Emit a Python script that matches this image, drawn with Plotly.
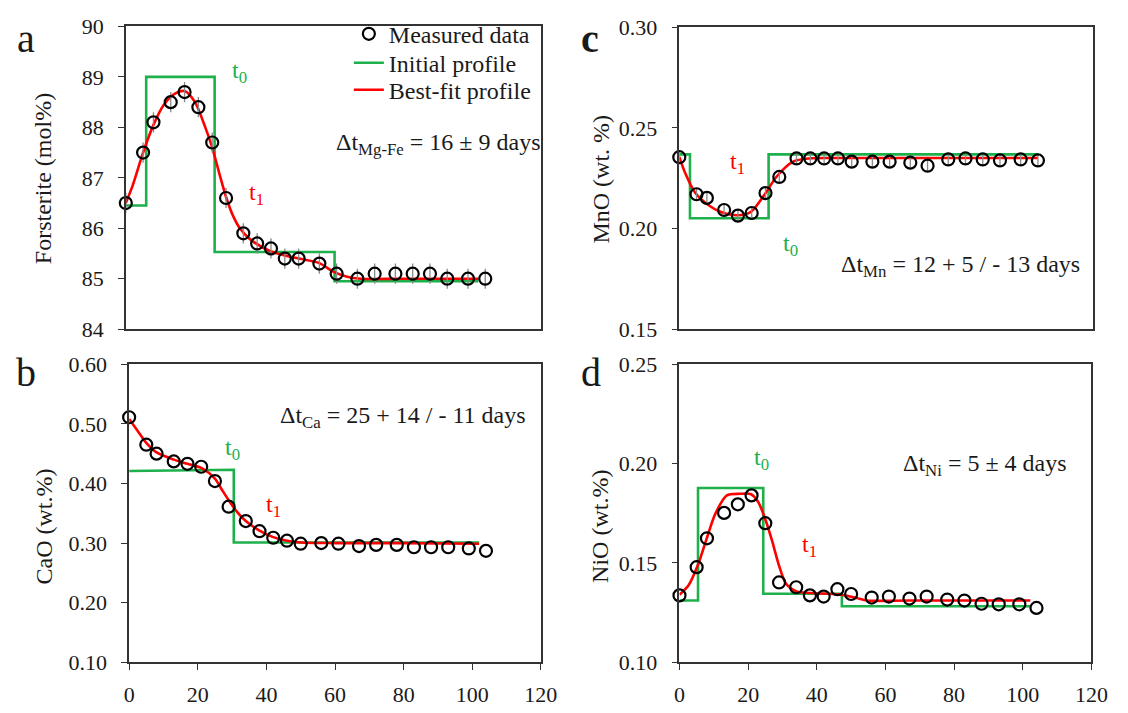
import plotly.graph_objects as go

W, H = 1128, 713
FONT = "Liberation Serif, 'Times New Roman', Times, serif"
GREEN = "#1DB04B"
RED = "#FF0000"

# ---------------- data ----------------
dist = [0, 5, 8, 13, 17, 21, 25, 29, 34, 38, 42, 46, 50, 56, 61, 67, 72, 78, 83, 88, 93, 99, 104]

fo_meas = [86.5, 87.5, 88.1, 88.5, 88.7, 88.4, 87.7, 86.6, 85.9, 85.7, 85.6, 85.4, 85.4, 85.3,
           85.1, 85.0, 85.1, 85.1, 85.1, 85.1, 85.0, 85.0, 85.0]
fo_init_x = [0, 5.9, 25.7, 60.4, 102]
fo_init_y = [86.45, 89.0, 85.53, 84.95, 84.95]
fo_fit_x = [0, 2, 5, 8, 11, 14, 17, 20, 23, 25, 27, 29, 31, 33, 36, 42, 50, 56, 60, 64, 68, 80, 102]
fo_fit_y = [86.5, 86.85, 87.5, 88.05, 88.45, 88.66, 88.72, 88.5, 88.0, 87.6, 87.1, 86.62, 86.25,
            86.0, 85.78, 85.54, 85.4, 85.31, 85.14, 85.04, 85.0, 85.0, 85.0]

cao_meas = [0.511, 0.465, 0.450, 0.437, 0.433, 0.428, 0.404, 0.361, 0.337, 0.320, 0.309, 0.304,
            0.299, 0.300, 0.299, 0.295, 0.297, 0.297, 0.293, 0.293, 0.293, 0.291, 0.287]
cao_init_x = [0, 30.5, 30.5, 102]
cao_init_y = [0.421, 0.423, 0.301, 0.301]
cao_fit_x = [0, 2.5, 5, 8, 13, 17, 21, 25, 27, 29, 31.5, 34, 38, 42, 46, 50, 60, 80, 102]
cao_fit_y = [0.508, 0.488, 0.468, 0.452, 0.440, 0.433, 0.426, 0.408, 0.390, 0.372, 0.352, 0.337,
             0.321, 0.310, 0.304, 0.301, 0.300, 0.300, 0.299]

mno_meas = [0.2354, 0.2170, 0.2152, 0.2092, 0.2064, 0.2077, 0.2176, 0.2256, 0.2348, 0.2348,
            0.2348, 0.2348, 0.2332, 0.2332, 0.2332, 0.2327, 0.2312, 0.2343, 0.2348, 0.2343,
            0.2338, 0.2343, 0.2338]
mno_init_x = [0, 3.1, 25.9, 104]
mno_init_y = [0.2368, 0.2051, 0.2368, 0.2368]
mno_fit_x = [0, 1.7, 4.5, 8.4, 12.1, 16.9, 20.7, 24.9, 28.2, 33, 37.7, 45, 60, 104]
mno_fit_y = [0.2356, 0.2276, 0.2180, 0.2117, 0.2082, 0.2066, 0.2082, 0.2173, 0.2257, 0.2332,
             0.2348, 0.2350, 0.2350, 0.2350]

nio_meas = [0.1337, 0.1479, 0.1624, 0.1752, 0.1795, 0.1840, 0.1700, 0.1402, 0.1378, 0.1337,
            0.1331, 0.1368, 0.1344, 0.1326, 0.1331, 0.1321, 0.1331, 0.1316, 0.1311, 0.1295,
            0.1292, 0.1292, 0.1274]
nio_init_x = [0, 5.4, 24.4, 47.3, 102.3]
nio_init_y = [0.1311, 0.1877, 0.1345, 0.1282, 0.1282]
nio_fit_x = [0, 2.7, 5.3, 7.8, 10.4, 13.8, 17.6, 20.7, 22.8, 24.8, 26.9, 29, 31, 34.1, 38.2,
             46.5, 51.6, 54.7, 67, 102.2]
nio_fit_y = [0.1340, 0.1389, 0.1487, 0.1616, 0.1746, 0.1840, 0.1848, 0.1847, 0.1811, 0.1730,
             0.1616, 0.1487, 0.1397, 0.1357, 0.1349, 0.1341, 0.1324, 0.1311, 0.1311, 0.1311]

fo_err = 0.2
mno_err = 0.003

y_ranges = [[84, 90], [0.10, 0.60], [0.15, 0.30], [0.10, 0.25]]
y_dticks = [1, 0.1, 0.05, 0.05]
y_formats = ["d", ".2f", ".2f", ".2f"]
y_titles = ["Forsterite (mol%)", "CaO (wt.%)", "MnO (wt. %)", "NiO (wt.%)"]
x_ticks = [0, 20, 40, 60, 80, 100, 120]

# ---------------- layout helpers (pixel boxes) ----------------
boxes = [  # left, right, top, bottom in px
    (122.3, 545.7, 15.0, 328.7),
    (125.7, 546.0, 365.0, 674.0),
    (687.3, 1109.7, 15.7, 328.7),
    (687.5, 1108.0, 365.0, 674.0),
]

def px(x):
    return x / W

def py(y):
    return 1 - y / H

fig = go.Figure()

panels = [
    (fo_meas, fo_init_x, fo_init_y, "hv", fo_fit_x, fo_fit_y, fo_err),
    (cao_meas, cao_init_x, cao_init_y, "linear", cao_fit_x, cao_fit_y, None),
    (mno_meas, mno_init_x, mno_init_y, "hv", mno_fit_x, mno_fit_y, mno_err),
    (nio_meas, nio_init_x, nio_init_y, "hv", nio_fit_x, nio_fit_y, None),
]

for i, (meas, ix, iy, ishape, fx, fy, err) in enumerate(panels):
    xa = "x" if i == 0 else f"x{i+1}"
    ya = "y" if i == 0 else f"y{i+1}"
    first = i == 0
    fig.add_trace(go.Scatter(x=ix, y=iy, mode="lines", line=dict(color=GREEN, width=2.6, shape=ishape),
                             name="Initial profile", showlegend=first, legend="legend2",
                             xaxis=xa, yaxis=ya))
    fig.add_trace(go.Scatter(x=fx, y=fy, mode="lines", line=dict(color=RED, width=2.6, shape="spline", smoothing=0.8),
                             name="Best-fit profile", showlegend=first, legend="legend3",
                             xaxis=xa, yaxis=ya))
    ey = dict(type="constant", value=err, color="#8a8a8a", thickness=1.3, width=0) if err else None
    fig.add_trace(go.Scatter(x=dist, y=meas, mode="markers",
                             marker=dict(symbol="circle-open", size=12, color="black", line=dict(width=2.2, color="black")),
                             error_y=ey, cliponaxis=False,
                             name="Measured data", showlegend=first, legend="legend",
                             xaxis=xa, yaxis=ya))

def leg(ycenter):
    return dict(x=px(350), y=py(ycenter), xanchor="left", yanchor="middle", bgcolor="rgba(0,0,0,0)",
                font=dict(family=FONT, size=24, color="#1a1a1a"), itemwidth=30, borderwidth=0)

layout = dict(
    width=W, height=H, margin=dict(l=0, r=0, t=0, b=0),
    paper_bgcolor="white", plot_bgcolor="white",
    font=dict(family=FONT, size=22, color="#1a1a1a"),
    showlegend=True,
    legend=leg(23), legend2=leg(53), legend3=leg(81),
)

for i, (l, r, t, b) in enumerate(boxes):
    sfx = "" if i == 0 else str(i + 1)
    show_x = i in (1, 3)
    layout["xaxis" + sfx] = dict(
        domain=[px(l), px(r)], anchor="y" + sfx, range=[0, 120],
        showline=True, linecolor="#333", linewidth=1.5, mirror=True,
        showgrid=False, zeroline=False,
        ticks="outside" if show_x else "", ticklen=6, tickwidth=1.3, tickcolor="#333",
        tickvals=x_ticks, showticklabels=show_x, ticklabelstandoff=5,
        tickfont=dict(family=FONT, size=22, color="#1a1a1a"),
    )
    layout["yaxis" + sfx] = dict(
        domain=[py(b), py(t)], anchor="x" + sfx, range=y_ranges[i],
        showline=True, linecolor="#333", linewidth=1.5, mirror=True,
        showgrid=False, zeroline=False,
        ticks="outside", ticklen=6, tickwidth=1.3, tickcolor="#333",
        tick0=y_ranges[i][0], dtick=y_dticks[i], tickformat=y_formats[i],
        ticklabelstandoff=10,
        tickfont=dict(family=FONT, size=22, color="#1a1a1a"),
    )

anns = []

def ann(text, x, y, size=24, color="#1a1a1a", angle=0, bold=False):
    anns.append(dict(text=("<b>%s</b>" % text) if bold else text, x=px(x), y=py(y),
                     xref="paper", yref="paper", showarrow=False,
                     xanchor="center", yanchor="middle", textangle=angle,
                     font=dict(family=FONT, size=size, color=color)))

# panel letters
ann("a", 20, 27, size=40)
ann("b", 20, 374, size=40)
ann("c", 596, 27, size=40, bold=True)
ann("d", 597, 374, size=40)

# axis titles
ann(y_titles[0], 38, 173, size=24, angle=-90)
ann(y_titles[1], 39, 533, size=24, angle=-90)
ann(y_titles[2], 607, 173, size=24, angle=-90)
ann(y_titles[3], 607, 533, size=24, angle=-90)

# Δt texts
ann("Δt<sub>Mg-Fe</sub> = 16 ± 9 days", 442, 137)
ann("Δt<sub>Ca</sub> = 25 + 14 / - 11 days", 405, 420)
ann("Δt<sub>Mn</sub> = 12 + 5 / - 13 days", 974, 263)
ann("Δt<sub>Ni</sub> = 5 ± 4 days", 999, 469)

# t0 / t1 labels
ann("t<sub>0</sub>", 238, 62, color=GREEN)
ann("t<sub>1</sub>", 256, 189, color=RED)
ann("t<sub>0</sub>", 231, 453, color=GREEN)
ann("t<sub>1</sub>", 273, 512, color=RED)
ann("t<sub>1</sub>", 747, 156, color=RED)
ann("t<sub>0</sub>", 801, 241, color=GREEN)
ann("t<sub>0</sub>", 771, 463, color=GREEN)
ann("t<sub>1</sub>", 820, 553, color=RED)

layout["annotations"] = anns
fig.update_layout(**layout)
fig.write_html("out.html")
